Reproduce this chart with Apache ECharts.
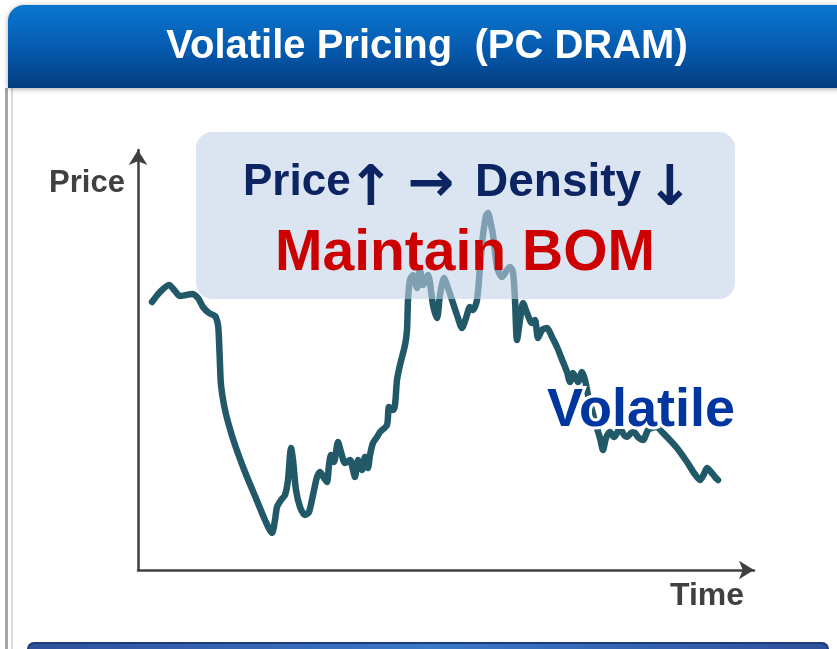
<!DOCTYPE html>
<html>
<head>
<meta charset="utf-8">
<script src="https://cdn.jsdelivr.net/npm/echarts@6/dist/echarts.min.js"></script>
<style>
html,body{margin:0;padding:0;background:#fff;}
#chart{width:837px;height:649px;}
</style>
</head>
<body>
<div id="chart"></div>
<script>
// Time positions (arbitrary units) and price values
const times = [14,22,31,37,42,48,54,60,65,71,77,80,81,82,83,86,90,97,107,117,127,134,137,139,143,147,150,152,153,155,158,162,167,171,175,179,182,186,189,191,193,196,200,203,207,212,215,217,220,224,227,230,232,235,239,242,249,251,255,257,259,262,267,269,270,272,275,279,282,285,290,295,299,302,306,309,314,319,324,328,332,335,339,342,345,348,350,352,355,359,364,369,372,375,377,379,382,385,389,394,397,400,404,409,414,419,425,429,432,435,440,444,447,450,454,458,462,465,468,472,476,479,482,486,489,493,496,500,505,510,514,519,524,529,539,549,556,562,566,569,573,577,580];
const prices = [268,278,285,279,274,275,276,272,263,257,254,245,230,205,185,165,148,125,98,74,50,37,50,63,70,75,90,115,122,110,80,63,55,58,75,93,98,92,88,105,115,108,128,118,107,110,100,93,110,100,113,102,115,127,133,138,145,163,160,165,190,205,225,240,270,290,295,282,300,285,295,265,252,275,292,285,270,255,242,252,263,260,270,303,335,354,357,350,335,303,293,300,303,298,270,230,250,267,257,247,250,232,240,242,233,223,208,198,188,197,188,198,190,175,160,145,132,120,132,138,133,137,142,135,133,137,138,133,130,140,142,143,138,133,122,108,97,90,96,102,98,93,90];
const titleText = 'Volatile Pricing  (PC DRAM)';
const yAxisLabel = 'Price';
const xAxisLabel = 'Time';
const boxWord1 = 'Price';
const boxWord2 = 'Density';
const arrowUp = '\u2191';
const arrowRight = '\u2192';
const arrowDown = '\u2193';
const boxLine2 = 'Maintain BOM';
const noteText = 'Volatile';

const seriesData = times.map((t, i) => [t, prices[i]]);
const chart = echarts.init(document.getElementById('chart'), null, {renderer: 'canvas'});
const axisLine = {
  show: true,
  symbol: ['none', 'arrow'],
  symbolSize: [14, 15],
  lineStyle: {color: '#404040', width: 2.5}
};
const navy = '#0c2461';
const arrowFont = 'bold 56px "DejaVu Sans", sans-serif';
const option = {
  animation: false,
  backgroundColor: '#ffffff',
  grid: {left: 138, right: 83, top: 150, bottom: 79, containLabel: false},
  xAxis: {
    type: 'value', min: 0, max: 616,
    axisLine: axisLine, axisTick: {show: false}, axisLabel: {show: false}, splitLine: {show: false}
  },
  yAxis: {
    type: 'value', min: 0, max: 420,
    axisLine: axisLine, axisTick: {show: false}, axisLabel: {show: false}, splitLine: {show: false}
  },
  series: [{
    type: 'line',
    data: seriesData,
    smooth: 0.25,
    showSymbol: false,
    z: 2,
    lineStyle: {color: '#215968', width: 6.5, cap: 'round', join: 'round'}
  }],
  graphic: {elements: [
    {type: 'rect', z: 1, shape: {x: 5, y: 88, width: 3, height: 561}, style: {fill: '#a6a6a6'}},
    {type: 'rect', z: 1, shape: {x: 11, y: 88, width: 2, height: 561}, style: {fill: '#d9d9d9'}},
    {type: 'rect', z: 1, shape: {x: 8, y: 5, width: 840, height: 83, r: [16, 0, 0, 0]},
      style: {
        fill: new echarts.graphic.LinearGradient(0, 0, 0, 1, [
          {offset: 0, color: '#0a76d0'}, {offset: 0.55, color: '#0559ad'}, {offset: 1, color: '#033c7e'}
        ]),
        shadowBlur: 5, shadowColor: 'rgba(0,0,0,0.35)', shadowOffsetY: 1
      }},
    {type: 'text', z: 2, x: 427, y: 47,
      style: {text: titleText, fill: '#ffffff', font: 'bold 40px "Liberation Sans", Arial, sans-serif',
        align: 'center', verticalAlign: 'middle',
        shadowBlur: 4, shadowColor: 'rgba(0,0,0,0.5)', shadowOffsetX: 1, shadowOffsetY: 2}},
    {type: 'rect', z: 1, shape: {x: 28, y: 643, width: 800, height: 30, r: 6},
      style: {fill: new echarts.graphic.LinearGradient(0, 0, 1, 0, [
        {offset: 0, color: '#2f4f9a'}, {offset: 0.5, color: '#3a78c8'}, {offset: 1, color: '#2f4f9a'}
      ]), stroke: '#1f3a78', lineWidth: 2}},
    {type: 'text', z: 5, x: 87, y: 183,
      style: {text: yAxisLabel, fill: '#404040', font: 'bold 31px "Liberation Sans", Arial, sans-serif',
        align: 'center', verticalAlign: 'middle'}},
    {type: 'text', z: 5, x: 707, y: 596,
      style: {text: xAxisLabel, fill: '#404040', font: 'bold 32px "Liberation Sans", Arial, sans-serif',
        align: 'center', verticalAlign: 'middle'}},
    {type: 'rect', z: 100, shape: {x: 196, y: 132, width: 539, height: 167, r: 16},
      style: {fill: 'rgba(194,211,231,0.59)'}},
    {type: 'text', z: 101, x: 243, y: 183,
      style: {text: boxWord1, fill: navy, font: 'bold 44px "Liberation Sans", Arial, sans-serif', align: 'left', verticalAlign: 'middle'}},
    {type: 'text', z: 101, x: 371, y: 190,
      style: {text: arrowUp, fill: navy, font: arrowFont, align: 'center', verticalAlign: 'middle'}},
    {type: 'text', z: 101, x: 431, y: 186,
      style: {text: arrowRight, fill: navy, font: arrowFont, align: 'center', verticalAlign: 'middle'}},
    {type: 'text', z: 101, x: 475, y: 183,
      style: {text: boxWord2, fill: navy, font: 'bold 46px "Liberation Sans", Arial, sans-serif', align: 'left', verticalAlign: 'middle'}},
    {type: 'text', z: 101, x: 670, y: 190,
      style: {text: arrowDown, fill: navy, font: arrowFont, align: 'center', verticalAlign: 'middle'}},
    {type: 'text', z: 101, x: 465, y: 254,
      style: {text: boxLine2, fill: '#cc0000', font: 'bold 57px "Liberation Sans", Arial, sans-serif',
        align: 'center', verticalAlign: 'middle',
        shadowBlur: 3, shadowColor: 'rgba(0,0,0,0.3)', shadowOffsetX: 2, shadowOffsetY: 2}},
    {type: 'text', z: 101, x: 641, y: 411,
      style: {text: noteText, fill: '#0036a0', font: 'bold 54px "Liberation Sans", Arial, sans-serif',
        align: 'center', verticalAlign: 'middle',
        stroke: '#ffffff', lineWidth: 6,
        shadowBlur: 4, shadowColor: 'rgba(0,0,0,0.35)', shadowOffsetX: 2, shadowOffsetY: 2}}
  ]}
};
chart.setOption(option);
</script>
</body>
</html>
